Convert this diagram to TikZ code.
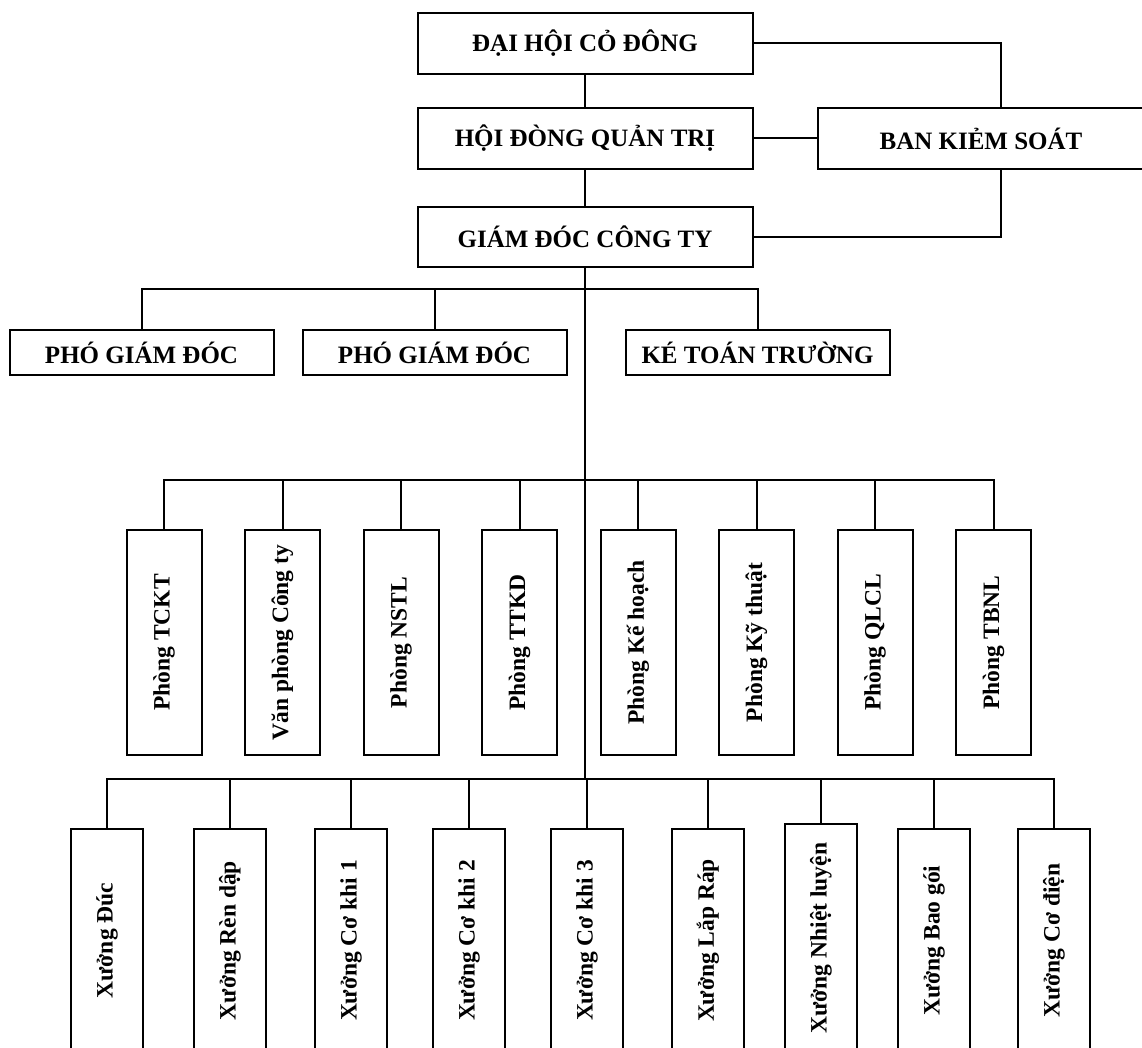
\documentclass[tikz,border=0pt]{standalone}
\usepackage{fontspec}
\setmainfont{Liberation Serif}
\usepackage{graphicx}

\tikzset{
  unit/.style = {draw, line width=2pt, inner sep=0pt,
                 font=\fontsize{25}{30}\selectfont\bfseries},
  topbox/.style = {unit, minimum width=335pt, minimum height=61pt},
  subbox/.style = {unit, minimum width=264pt, minimum height=45pt},
  dept/.style = {unit, minimum width=75pt, minimum height=225pt,
                 font=\fontsize{23.5}{28}\selectfont\bfseries},
  shop/.style = {dept, minimum width=72pt, minimum height=223pt},
  link/.style = {line width=2pt}
}

\begin{document}
\begin{tikzpicture}[x=1pt, y=-1pt]
  \useasboundingbox (0,0) rectangle (1142,1048);

  % ban lanh dao
  \node[topbox] (dhcd) at (585,43.5) {ĐẠI HỘI CỎ ĐÔNG};
  \node[topbox] (hdqt) at (585,138.5) {HỘI ĐÒNG QUẢN TRỊ};
  \node[topbox, minimum width=326pt] (bks) at (981,138.5) {BAN KIẺM SOÁT};
  \node[topbox, minimum height=60pt] (gd) at (585,237) {GIÁM ĐÓC CÔNG TY};

  \node[subbox] (pgd1) at (141.5,352.5) {PHÓ GIÁM ĐÓC};
  \node[subbox] (pgd2) at (434.5,352.5) {PHÓ GIÁM ĐÓC};
  \node[subbox] (ktt) at (757.5,352.5) {KÉ TOÁN TRƯỜNG};

  % cac phong
  \node[dept] (p1) at (164,642.5) {\rotatebox{90}{Phòng TCKT}};
  \node[dept] (p2) at (282.5,642.5) {\rotatebox{90}{Văn phòng Công ty}};
  \node[dept] (p3) at (401,642.5) {\rotatebox{90}{Phòng NSTL}};
  \node[dept] (p4) at (519.5,642.5) {\rotatebox{90}{Phòng TTKD}};
  \node[dept] (p5) at (638,642.5) {\rotatebox{90}{Phòng Kế hoạch}};
  \node[dept] (p6) at (756.5,642.5) {\rotatebox{90}{Phòng Kỹ thuật}};
  \node[dept] (p7) at (875,642.5) {\rotatebox{90}{Phòng QLCL}};
  \node[dept] (p8) at (993.5,642.5) {\rotatebox{90}{Phòng TBNL}};

  % cac xuong
  \node[shop] (x1) at (107,940.5) {\rotatebox{90}{Xưởng Đúc}};
  \node[shop] (x2) at (230,940.5) {\rotatebox{90}{Xưởng Rèn dập}};
  \node[shop] (x3) at (351,940.5) {\rotatebox{90}{Xưởng Cơ khi 1}};
  \node[shop] (x4) at (469,940.5) {\rotatebox{90}{Xưởng Cơ khi 2}};
  \node[shop] (x5) at (587,940.5) {\rotatebox{90}{Xưởng Cơ khi 3}};
  \node[shop] (x6) at (708,940.5) {\rotatebox{90}{Xưởng Lắp Ráp}};
  \node[shop, minimum height=228pt] (x7) at (821,938) {\rotatebox{90}{Xưởng Nhiệt luyện}};
  \node[shop] (x8) at (934,940.5) {\rotatebox{90}{Xưởng Bao gói}};
  \node[shop] (x9) at (1054,940.5) {\rotatebox{90}{Xưởng Cơ điện}};

  \coordinate (b1) at (0,289);
  \coordinate (b2) at (0,480);
  \coordinate (b3) at (0,779);

  % duong noi
  \draw[link] (dhcd) -- (hdqt);
  \draw[link] (hdqt) -- (gd);
  \draw[link] (hdqt) -- (bks);
  \draw[link] (dhcd.east) -| ([xshift=20pt]bks.north);
  \draw[link] ([xshift=20pt]bks.south) |- (gd.east);
  \draw[link] (gd.south) -- (gd.south |- b3);

  \draw[link] (pgd1.north) |- (ktt.north |- b1) -- (ktt.north);
  \draw[link] (pgd2.north) -- (pgd2.north |- b1);

  \draw[link] (p1.north) |- (p8.north |- b2) -- (p8.north);
  \foreach \n in {p2,p3,p4,p5,p6,p7}
    \draw[link] (\n.north) -- (\n.north |- b2);

  \draw[link] (x1.north) |- (x9.north |- b3) -- (x9.north);
  \foreach \n in {x2,x3,x4,x5,x6,x7,x8}
    \draw[link] (\n.north) -- (\n.north |- b3);
\end{tikzpicture}
\end{document}
